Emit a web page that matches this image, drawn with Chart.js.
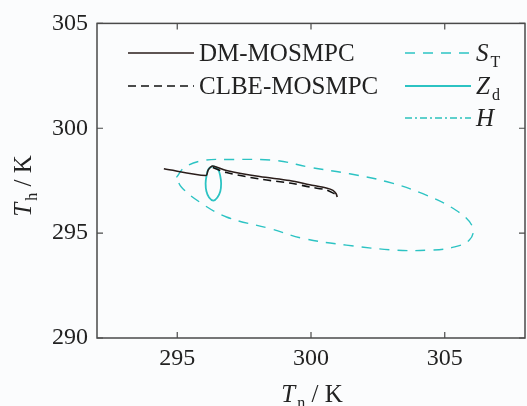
<!DOCTYPE html>
<html>
<head>
<meta charset="utf-8">
<script src="https://cdn.jsdelivr.net/npm/chart.js@4.4.1/dist/chart.umd.min.js"></script>
<style>
html,body{margin:0;padding:0;background:#fbfcfd;}
#wrap{width:527px;height:406px;position:relative;}
</style>
</head>
<body>
<div id="wrap"><canvas id="c"></canvas></div>
<script>
// ---- data ----
const xTicks = [295, 300, 305];
const yTicks = [290, 295, 300, 305];

const dmX = [294.50, 296.07, 296.15, 296.24, 296.33, 296.84, 298.08, 299.20, 299.95, 300.57, 300.82, 300.94, 300.98];
const dmY = [298.07, 297.75, 297.99, 298.14, 298.20, 297.99, 297.70, 297.51, 297.31, 297.15, 297.04, 296.88, 296.72];

const clbeX = [296.33, 296.84, 298.08, 299.20, 299.95, 300.57, 300.92];
const clbeY = [298.13, 297.89, 297.58, 297.39, 297.20, 297.06, 296.85];

const stX = [294.97, 295.28, 295.96, 296.84, 298.71, 299.95, 301.44, 302.81, 304.18, 305.42, 306.04, 305.92, 305.29, 304.43, 303.18, 301.32, 299.70, 298.46, 296.84, 295.84, 295.16, 294.97];
const stY = [297.66, 298.14, 298.46, 298.51, 298.46, 298.14, 297.83, 297.46, 296.88, 296.09, 295.30, 294.67, 294.32, 294.19, 294.19, 294.43, 294.75, 295.22, 295.77, 296.48, 297.19, 297.66];

const zdX = [296.35, 296.52, 296.61, 296.64, 296.61, 296.50, 296.35, 296.19, 296.09, 296.06, 296.09, 296.17, 296.35];
const zdY = [298.20, 298.06, 297.70, 297.37, 297.00, 296.70, 296.55, 296.70, 297.00, 297.37, 297.70, 298.06, 298.20];

const hX = [];
const hY = [];

const labels = ['DM-MOSMPC', 'CLBE-MOSMPC', 'S_T', 'Z_d', 'H_'];

function pts(xs, ys){ return xs.map((x,i)=>({x:x, y:ys[i]})); }

const CYAN = '#2cc3c3';
const DARK = '#2a1d1a';

const datasets = [
  {label: labels[0], data: pts(dmX, dmY), borderColor: DARK, borderWidth: 1.6, borderDash: [], tension: 0.3},
  {label: labels[1], data: pts(clbeX, clbeY), borderColor: '#111', borderWidth: 1.6, borderDash: [8,5], tension: 0.3},
  {label: labels[2], data: pts(stX, stY), borderColor: CYAN, borderWidth: 1.4, borderDash: [10,8], tension: 0.4},
  {label: labels[3], data: pts(zdX, zdY), borderColor: CYAN, borderWidth: 1.8, borderDash: [], tension: 0.4},
  {label: labels[4], data: pts(hX, hY), borderColor: '#5fd0cc', borderWidth: 2, borderDash: [7,3,2,3], tension: 0.4}
];
datasets.forEach(d=>{ d.showLine = true; d.pointRadius = 0; d.fill = false; });

const SERIF = '"Liberation Serif", "Times New Roman", serif';

function parseLabel(s){
  if (s.indexOf('_') > 0 || s.endsWith('_')) {
    const p = s.split('_');
    const out = [{t:p[0], it:true}];
    if (p[1]) out.push({t:p[1], sub:true});
    return out;
  }
  return [{t:s}];
}

function drawRich(ctx, parts, x, y, size, align){
  const sub = Math.round(size*0.62);
  let w = 0;
  parts.forEach((p, i)=>{
    ctx.font = (p.it?'italic ':'') + (p.sub?sub:size) + 'px ' + SERIF;
    p.w = ctx.measureText(p.t).width;
    p.gap = (p.sub && i > 0 && parts[i-1].it) ? 2 : 0;
    w += p.w + p.gap;
  });
  let cx = align === 'center' ? x - w/2 : (align === 'right' ? x - w : x);
  ctx.textAlign = 'left';
  ctx.textBaseline = 'alphabetic';
  parts.forEach(p=>{
    cx += p.gap;
    ctx.font = (p.it?'italic ':'') + (p.sub?sub:size) + 'px ' + SERIF;
    ctx.fillText(p.t, cx, y + (p.sub ? size*0.22 : 0));
    cx += p.w;
  });
}

const decor = {
  id: 'decor',
  afterDatasetsDraw(chart){
    const ctx = chart.ctx;
    const a = chart.chartArea;
    const xs = chart.scales.x, ys = chart.scales.y;
    ctx.save();
    // frame
    ctx.strokeStyle = '#4a4a4a';
    ctx.lineWidth = 1.5;
    ctx.setLineDash([]);
    ctx.strokeRect(a.left, a.top, a.right - a.left, a.bottom - a.top);
    // inward ticks on all sides
    ctx.lineWidth = 1.2;
    const tl = 6;
    xTicks.forEach(v=>{
      const px = xs.getPixelForValue(v);
      ctx.beginPath();
      ctx.moveTo(px, a.bottom); ctx.lineTo(px, a.bottom - tl);
      ctx.moveTo(px, a.top); ctx.lineTo(px, a.top + tl);
      ctx.stroke();
    });
    yTicks.forEach(v=>{
      const py = ys.getPixelForValue(v);
      ctx.beginPath();
      ctx.moveTo(a.left, py); ctx.lineTo(a.left + tl, py);
      ctx.moveTo(a.right, py); ctx.lineTo(a.right - tl, py);
      ctx.stroke();
    });
    // legend (two columns, no box)
    const slots = [
      {x:128, y:53}, {x:128, y:86}, {x:405, y:53}, {x:405, y:86}, {x:405, y:118}
    ];
    chart.data.datasets.forEach((d, i)=>{
      const s = slots[i];
      ctx.strokeStyle = d.borderColor;
      ctx.lineWidth = d.borderWidth;
      ctx.setLineDash(d.borderDash || []);
      ctx.beginPath();
      ctx.moveTo(s.x, s.y); ctx.lineTo(s.x + 66, s.y);
      ctx.stroke();
      ctx.setLineDash([]);
      ctx.fillStyle = '#222';
      drawRich(ctx, parseLabel(d.label), s.x + 71, s.y + 8, 25, 'left');
    });
    // axis titles
    ctx.fillStyle = '#222';
    drawRich(ctx, [{t:'T', it:true}, {t:'n', sub:true}, {t:' / K'}], 312, 402, 25, 'center');
    ctx.save();
    ctx.translate(31, 186);
    ctx.rotate(-Math.PI/2);
    drawRich(ctx, [{t:'T', it:true}, {t:'h', sub:true}, {t:' / K'}], 0, 0, 25, 'center');
    ctx.restore();
    ctx.restore();
  }
};

const bg = {
  id: 'bg',
  beforeDraw(chart){
    const ctx = chart.ctx;
    ctx.save();
    ctx.fillStyle = '#fbfcfd';
    ctx.fillRect(0, 0, chart.width, chart.height);
    ctx.restore();
  }
};

new Chart(document.getElementById('c'), {
  type: 'scatter',
  data: { datasets: datasets },
  options: {
    responsive: true,
    maintainAspectRatio: false,
    animation: false,
    devicePixelRatio: 1,
    layout: { padding: { top: 22, right: 2, left: 0, bottom: 0 } },
    plugins: { legend: { display: false }, tooltip: { enabled: false } },
    scales: {
      x: {
        type: 'linear', min: 292, max: 308,
        afterBuildTicks(s){ s.ticks = xTicks.map(v=>({value:v})); },
        afterFit(s){ s.height = 68; },
        grid: { display: false, drawTicks: false },
        border: { display: false },
        ticks: { padding: 6, color: '#222', font: { family: SERIF, size: 24 }, maxRotation: 0 }
      },
      y: {
        type: 'linear', min: 290, max: 305,
        afterBuildTicks(s){ s.ticks = yTicks.map(v=>({value:v})); },
        afterFit(s){ s.width = 97; },
        grid: { display: false, drawTicks: false },
        border: { display: false },
        ticks: { padding: 9, color: '#222', font: { family: SERIF, size: 24 } }
      }
    }
  },
  plugins: [bg, decor]
});
</script>
</body>
</html>
